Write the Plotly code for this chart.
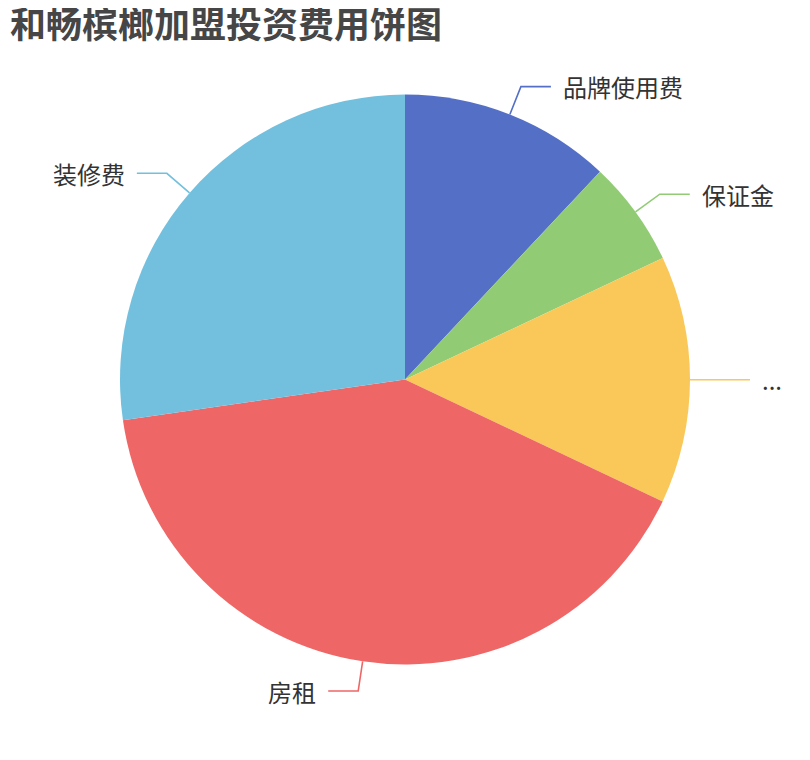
import math
import plotly.graph_objects as go

# 费用构成（万元，按图估读）
names = ['品牌使用费', '保证金', '...', '房租', '装修费']
values = [12.0, 6.0, 14.05, 40.7, 27.3]
colors = ['#5470c6', '#91cc75', '#fac858', '#ee6666', '#73c0de']

W, H = 810, 760
OFF = 8                       # page body margin
cx, cy, R = 405, 379.5, 285   # pie centre / radius in screen pixels
len1, len2, gap = 30, 30, 10  # label line segments


def px(x):
    return (x - OFF) / W


def py(y):
    return 1 - (y - OFF) / H


fig = go.Figure()
fig.add_trace(go.Pie(
    labels=names,
    values=values,
    marker=dict(colors=colors, line=dict(width=0)),
    sort=False,
    direction='clockwise',
    rotation=0,
    textinfo='none',
    hoverinfo='label+value+percent',
    domain=dict(x=[px(cx - R), px(cx + R)], y=[py(cy + R), py(cy - R)]),
))

# label lines + labels, positioned from the slice angles
total = sum(values)
start = 0.0
shapes = []
annotations = []
for name, val, col in zip(names, values, colors):
    sweep = val / total * 360
    mid = math.radians(start + sweep / 2)
    start += sweep
    s, c = math.sin(mid), math.cos(mid)
    x1, y1 = cx + R * s, cy - R * c
    x2, y2 = cx + (R + len1) * s, cy - (R + len1) * c
    side = 1 if s >= -1e-9 else -1
    x3 = x2 + side * len2
    shapes.append(dict(
        type='path', xref='paper', yref='paper',
        path=f'M {px(x1)},{py(y1)} L {px(x2)},{py(y2)} L {px(x3)},{py(y2)}',
        line=dict(color=col, width=1.6),
    ))
    annotations.append(dict(
        x=px(x3 + side * gap), y=py(y2), xref='paper', yref='paper',
        text=name, showarrow=False,
        xanchor='left' if side > 0 else 'right', yanchor='middle',
        font=dict(size=24, color='#333333'),
    ))

fig.update_layout(
    width=W, height=H,
    margin=dict(l=0, r=0, t=0, b=0),
    paper_bgcolor='white',
    plot_bgcolor='white',
    showlegend=False,
    font=dict(family='Noto Sans CJK SC, sans-serif'),
    title=dict(
        text='<b>和畅槟榔加盟投资费用饼图</b>',
        x=px(10), xanchor='left',
        y=py(13), yanchor='top',
        font=dict(size=36, color='#464646'),
    ),
    shapes=shapes,
    annotations=annotations,
)

fig.write_html('out.html')
